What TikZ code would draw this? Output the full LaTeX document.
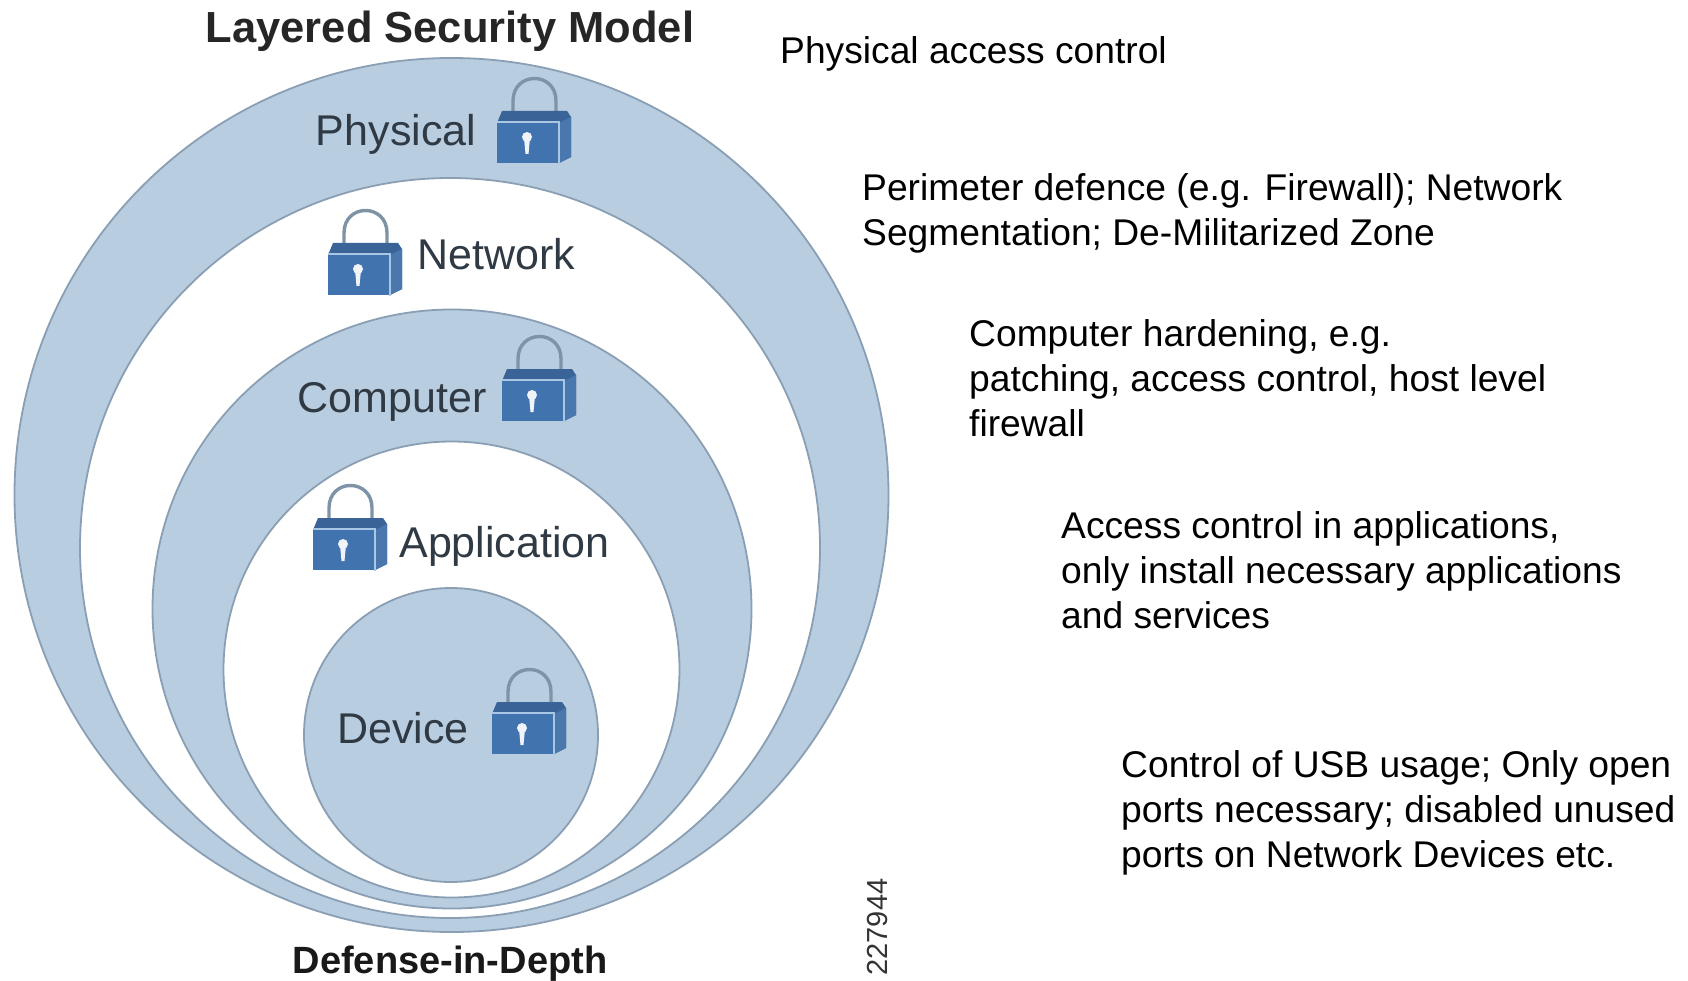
\documentclass[tikz,border=0pt]{standalone}
\usepackage{fontspec}
\setmainfont{Liberation Sans}
\definecolor{bandfill}{HTML}{B9CDE0}
\definecolor{bandline}{HTML}{8A9FB3}
\definecolor{lockblue}{HTML}{4173AE}
\definecolor{lockdark}{HTML}{3A6498}
\definecolor{lockside}{HTML}{4A78AE}
\definecolor{lockedge}{HTML}{A9C6E2}
\definecolor{shackle}{HTML}{7F93A6}
\definecolor{inklabel}{HTML}{303A44}
\tikzset{
  x=1pt,y=-1pt,
  band/.style={circle,draw=bandline,line width=1.8pt,fill=bandfill,inner sep=0pt,outer sep=0pt},
  hole/.style={circle,draw=bandline,line width=1.8pt,fill=white,inner sep=0pt,outer sep=0pt},
  layerlabel/.style={text=inklabel,font=\fontsize{43}{43}\selectfont,inner sep=0pt,anchor=base},
  titlelabel/.style={text=black!85,font=\fontsize{43.5}{43.5}\selectfont\bfseries,inner sep=0pt,anchor=base},
  footlabel/.style={text=black!90,font=\fontsize{38}{38}\selectfont\bfseries,inner sep=0pt,anchor=base},
  notetext/.style={text=black,font=\fontsize{37.2}{45}\selectfont,align=left,anchor=west,inner sep=0pt},
  lockpic/.pic={
    \draw[shackle,line width=3.4pt] (16,-40) -- (16,-62) .. controls (16,-92) and (59,-92) .. (59,-62) -- (59,-40);
    \fill[lockdark] (0,-40) -- (5,-52) -- (70,-52) -- (74,-46) -- (74,-6) -- (62,0) -- cycle;
    \fill[lockside] (62,-40) -- (74,-46) -- (74,-6) -- (62,0) -- cycle;
    \fill[lockblue] (0,-40) rectangle (62,0);
    \draw[lockedge,line width=2pt] (0,-41) -- (62,-41) -- (62,1);
    \fill[white!92!lockblue] (30,-26) circle (5pt);
    \fill[white!92!lockblue] (27,-25) -- (33,-25) -- (31.5,-9) -- (28.5,-9) -- cycle;
  }
}
\begin{document}
\begin{tikzpicture}
\useasboundingbox (0,0) rectangle (1688,981);
\fill[white] (0,0) rectangle (1688,981);
\node[band,minimum size=874pt] (outer) at (451.5,495) {};
\node[hole,minimum size=740pt] (networkhole) at (450,548) {};
\node[band,minimum size=599pt] (computerband) at (452,609) {};
\node[hole,minimum size=456pt] (apphole) at (451.5,669.5) {};
\node[band,minimum size=294pt] (devicedisc) at (451,735) {};

\pic at (497,163) {lockpic};
\pic at (328,295) {lockpic};
\pic at (502,421) {lockpic};
\pic at (313,570) {lockpic};
\pic at (492,754) {lockpic};

\node[titlelabel] (title) at (450,43) {Layered Security Model};
\node[footlabel] (footer) at (450,973) {Defense-in-Depth};
\node[layerlabel] (physical) at (396,146) {Physical};
\node[layerlabel] (network) at (496,270) {Network};
\node[layerlabel] (computer) at (392,412) {Computer};
\node[layerlabel] (application) at (504.5,557) {Application};
\node[layerlabel] (device) at (403,743) {Device};
\node[rotate=90,text=black!80,font=\fontsize{29}{29}\selectfont,inner sep=0pt] (figid) at (878,927) {227944};

\node[notetext] (n1) at (780,54) {Physical access control};
\node[notetext] (n2) at (862,213) {Perimeter defence (e.g. Firewall); Network\\Segmentation; De-Militarized Zone};
\node[notetext] (n3) at (969,378) {Computer hardening, e.g.\\patching, access control, host level\\firewall};
\node[notetext] (n4) at (1061,570) {Access control in applications,\\only install necessary applications\\and services};
\node[notetext] (n5) at (1121,813) {Control of USB usage; Only open\\ports necessary; disabled unused\\ports on Network Devices etc.};
\end{tikzpicture}
\end{document}
